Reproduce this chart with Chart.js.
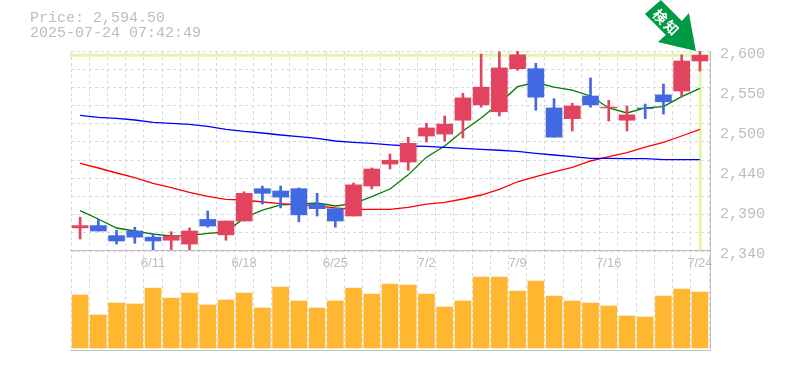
<!DOCTYPE html>
<html>
<head>
<meta charset="utf-8">
<title>Price chart</title>
<script src="https://cdn.jsdelivr.net/npm/chart.js@4/dist/chart.umd.js"></script>
<style>
    html, body { margin: 0; padding: 0; background: #fff; }
    canvas { display: block; }
</style>
</head>
<body>
<canvas id="priceChart" width="785" height="370"></canvas>
<script>
// Chart data
const dates = ['6/5', '6/6', '6/9', '6/10', '6/11', '6/12', '6/13', '6/16', '6/17', '6/18', '6/19', '6/20',
    '6/23', '6/24', '6/25', '6/26', '6/27', '6/30', '7/1', '7/2', '7/3', '7/4', '7/7', '7/8', '7/9', '7/10',
    '7/11', '7/14', '7/15', '7/16', '7/17', '7/18', '7/22', '7/23', '7/24'];
const labelledDates = ['6/11', '6/18', '6/25', '7/2', '7/9', '7/16', '7/24'];

const opens = [2370, 2373, 2360, 2366, 2358, 2354, 2349, 2381, 2361, 2379, 2421, 2418, 2421, 2401, 2395, 2385.5, 2424.5,
    2453, 2455.7, 2489.5, 2492, 2510, 2530, 2521, 2577, 2577, 2526, 2512, 2541.5, 2526, 2510, 2526, 2543, 2548, 2587];
const closes = [2373, 2366, 2353, 2358, 2353, 2359.5, 2366, 2372.5, 2379, 2415, 2415, 2410, 2387, 2395, 2379, 2426, 2446.6,
    2458, 2480, 2500, 2505, 2539, 2553, 2578, 2595, 2540, 2488, 2528.5, 2530, 2527, 2517, 2525, 2534, 2587, 2594.5];
const highs = [2384, 2381, 2367, 2371, 2363, 2365, 2370, 2392, 2379, 2417, 2424.5, 2424.5, 2422, 2415, 2395, 2428.4, 2448,
    2466, 2488, 2506, 2515.5, 2545, 2596, 2599, 2601, 2584, 2538, 2532, 2565, 2536, 2528.5, 2531, 2557, 2595, 2601];
const lows = [2355.6, 2366, 2349, 2350, 2340, 2340, 2341, 2371, 2354, 2379, 2401, 2396, 2378, 2385.5, 2371, 2385.5, 2420.6,
    2446.6, 2445, 2481.7, 2483, 2487, 2527, 2515.5, 2575, 2523, 2488, 2496, 2527, 2509, 2496, 2512, 2518, 2540, 2574];

const maShort = [2392.4, 2381.6, 2369.9, 2366, 2362, 2359.5, 2360, 2363, 2364.7, 2383, 2393, 2400, 2401, 2402.4, 2398.5,
    2401.5, 2410.6, 2420.6, 2439, 2462, 2476.5, 2496, 2513, 2532, 2553.6, 2559, 2553, 2549, 2541.5, 2526, 2519.4, 2526,
    2527.6, 2540.6, 2551.5];
const maMiddle = [2454, 2447.9, 2441.4, 2435.3, 2428, 2422.3, 2416.3, 2411, 2407.2, 2406.3, 2403.7, 2401.5, 2400, 2398.5,
    2396, 2394.2, 2394.2, 2394.2, 2396.8, 2401, 2403.3, 2407.6, 2412.8, 2420, 2430, 2436.6, 2443, 2448.8, 2457, 2462.6,
    2467.8, 2475, 2481.3, 2489.5, 2498];
const maLong = [2516.4, 2513.8, 2512.5, 2510.3, 2507.3, 2506, 2504.7, 2502, 2498, 2495.4, 2493.4, 2490.8, 2488.6, 2486.5,
    2483, 2481.3, 2480, 2478, 2476.5, 2476, 2474.8, 2473.5, 2472, 2471, 2469.6, 2467, 2464.8, 2462.6, 2460.5, 2460.5,
    2460, 2460, 2458.7, 2458.7, 2458.7];

const volumes = [53, 33, 45, 44, 60, 50, 55, 43, 48, 55, 40, 61, 47, 40, 47, 60, 54, 64, 63, 54, 41, 47, 71, 71, 57, 67,
    52, 47, 45, 42, 32, 31, 52, 59, 56];

const priceTickValues = [2600, 2548, 2496, 2444, 2392, 2340];
const priceTickLabels = ['2,600', '2,550', '2,500', '2,440', '2,390', '2,340'];
const gridCells = 11;

const currentPrice = 2594.5;
const titleLines = ['Price: 2,594.50', '2025-07-24 07:42:49'];
const arrowLabel = ['検', '知'];

const UP_COLOR = '#e2445f';
const DOWN_COLOR = '#4169e1';
const GRID_COLOR = '#d8d8d8';
const GRID_DASH = [3, 3];
const FRAME_COLOR = '#bfbfbf';
const TEXT_COLOR = '#bdbdbd';
const MONO_FONT = '"Liberation Mono", monospace';

const candleColors = opens.map((o, i) => (closes[i] >= o ? UP_COLOR : DOWN_COLOR));

// Horizontal grid is a fixed number of cells, the labels sit on their own ticks
const gridValues = [];
for (let i = 0; i <= gridCells; i++) {
    gridValues.push(2340 + (i * 260) / gridCells);
}
const isGridValue = v => gridValues.some(g => Math.abs(g - v) < 0.01);

// Highlight lines, panel frame, title and arrow
const overlayPlugin = {
    id: 'overlay',
    beforeDatasetsDraw(chart) {
        const { ctx, chartArea, scales } = chart;
        const py = scales.y.getPixelForValue(currentPrice);
        const lx = scales.x.getPixelForValue(dates.length - 1);
        ctx.save();
        ctx.strokeStyle = '#e3f5a6';
        ctx.lineWidth = 3;
        ctx.beginPath();
        ctx.moveTo(chartArea.left - 1, py);
        ctx.lineTo(chartArea.right + 1, py);
        ctx.moveTo(lx + 0.5, py);
        ctx.lineTo(lx + 0.5, scales.y.bottom);
        ctx.stroke();
        ctx.restore();
    },
    afterDraw(chart) {
        const { ctx, chartArea, scales } = chart;
        ctx.save();

        // frame
        const sepY = Math.floor(scales.y.bottom) - 0.5;
        const rightX = chartArea.right + 1.5;
        ctx.strokeStyle = FRAME_COLOR;
        ctx.lineWidth = 1;
        ctx.beginPath();
        ctx.moveTo(chartArea.left - 1, sepY);
        ctx.lineTo(rightX, sepY);
        ctx.moveTo(chartArea.left - 1, chartArea.bottom + 0.5);
        ctx.lineTo(rightX + 0.5, chartArea.bottom + 0.5);
        ctx.moveTo(rightX, chartArea.top);
        ctx.lineTo(rightX, chartArea.bottom);
        ctx.stroke();

        // title
        ctx.fillStyle = TEXT_COLOR;
        ctx.font = '15px ' + MONO_FONT;
        ctx.textBaseline = 'middle';
        ctx.textAlign = 'left';
        ctx.fillText(titleLines[0], 30, 18);
        ctx.fillText(titleLines[1], 30, 33);

        // arrow pointing at the last candle
        const tipX = scales.x.getPixelForValue(dates.length - 1) - 4;
        const tipY = scales.y.getPixelForValue(2600);
        ctx.translate(tipX, tipY);
        ctx.fillStyle = '#009944';
        ctx.beginPath();
        ctx.moveTo(0, 0);
        ctx.lineTo(-7, -38);
        ctx.lineTo(-14, -30);
        ctx.lineTo(-35, -51);
        ctx.lineTo(-51, -37);
        ctx.lineTo(-30, -16);
        ctx.lineTo(-38, -9);
        ctx.closePath();
        ctx.fill();

        // label runs along the shaft
        ctx.translate(-30, -29);
        ctx.rotate(Math.PI / 4);
        ctx.fillStyle = '#fff';
        ctx.font = 'bold 14px "Noto Sans CJK JP"';
        ctx.textAlign = 'center';
        ctx.fillText(arrowLabel[0], -8, 0);
        ctx.fillText(arrowLabel[1], 8, 0);
        ctx.restore();
    },
};

new Chart(document.getElementById('priceChart'), {
    type: 'bar',
    data: {
        labels: dates,
        datasets: [
            {
                // candle bodies
                data: opens.map((o, i) => [o, closes[i]]),
                backgroundColor: candleColors,
                barThickness: 16,
                grouped: false,
                order: 1,
                yAxisID: 'y',
            },
            {
                // candle wicks
                data: lows.map((l, i) => [l, highs[i]]),
                backgroundColor: candleColors,
                barThickness: 2,
                grouped: false,
                order: 2,
                yAxisID: 'y',
            },
            {
                type: 'line',
                data: maLong,
                borderColor: '#0000ff',
                borderWidth: 1.3,
                pointRadius: 0,
                order: 3,
                yAxisID: 'y',
            },
            {
                type: 'line',
                data: maMiddle,
                borderColor: '#ff0000',
                borderWidth: 1.3,
                pointRadius: 0,
                order: 3,
                yAxisID: 'y',
            },
            {
                type: 'line',
                data: maShort,
                borderColor: '#007a00',
                borderWidth: 1.3,
                pointRadius: 0,
                order: 3,
                yAxisID: 'y',
            },
            {
                data: volumes,
                backgroundColor: '#ffb732',
                barThickness: 16,
                grouped: false,
                order: 4,
                yAxisID: 'volume',
            },
        ],
    },
    options: {
        responsive: false,
        animation: false,
        layout: {
            padding: { left: 71, top: 51, right: 0, bottom: 20 },
        },
        plugins: {
            legend: { display: false },
            tooltip: { enabled: false },
        },
        scales: {
            x: {
                type: 'category',
                position: { y: 2340 },
                offset: true,
                grid: {
                    offset: true,
                    color: GRID_COLOR,
                    drawTicks: false,
                },
                border: { display: false, dash: GRID_DASH },
                ticks: {
                    autoSkip: false,
                    maxRotation: 0,
                    padding: 5,
                    color: TEXT_COLOR,
                    font: { family: '"Liberation Sans"', size: 13 },
                    callback(value) {
                        const label = this.getLabelForValue(value);
                        return labelledDates.includes(label) ? label : '';
                    },
                },
            },
            y: {
                position: 'right',
                stack: 'panels',
                stackWeight: 200,
                min: 2340,
                max: 2600,
                afterFit(scale) {
                    scale.width = 76;
                },
                afterBuildTicks(scale) {
                    const values = [...new Set([...gridValues, ...priceTickValues])].sort((a, b) => a - b);
                    scale.ticks = values.map(value => ({ value }));
                },
                grid: {
                    color: ctx => (ctx.tick && isGridValue(ctx.tick.value) ? GRID_COLOR : 'transparent'),
                    drawTicks: false,
                },
                border: { display: false, dash: GRID_DASH },
                ticks: {
                    autoSkip: false,
                    padding: 11,
                    labelOffset: 3,
                    color: TEXT_COLOR,
                    font: { family: MONO_FONT, size: 15 },
                    callback(value) {
                        const idx = priceTickValues.indexOf(value);
                        return idx >= 0 ? priceTickLabels[idx] : '';
                    },
                },
            },
            volume: {
                position: 'right',
                stack: 'panels',
                stackWeight: 99,
                min: -2,
                max: 97,
                afterFit(scale) {
                    scale.width = 76;
                },
                grid: { display: false },
                border: { display: false },
                ticks: { display: false },
            },
        },
    },
    plugins: [overlayPlugin],
});
</script>
</body>
</html>
